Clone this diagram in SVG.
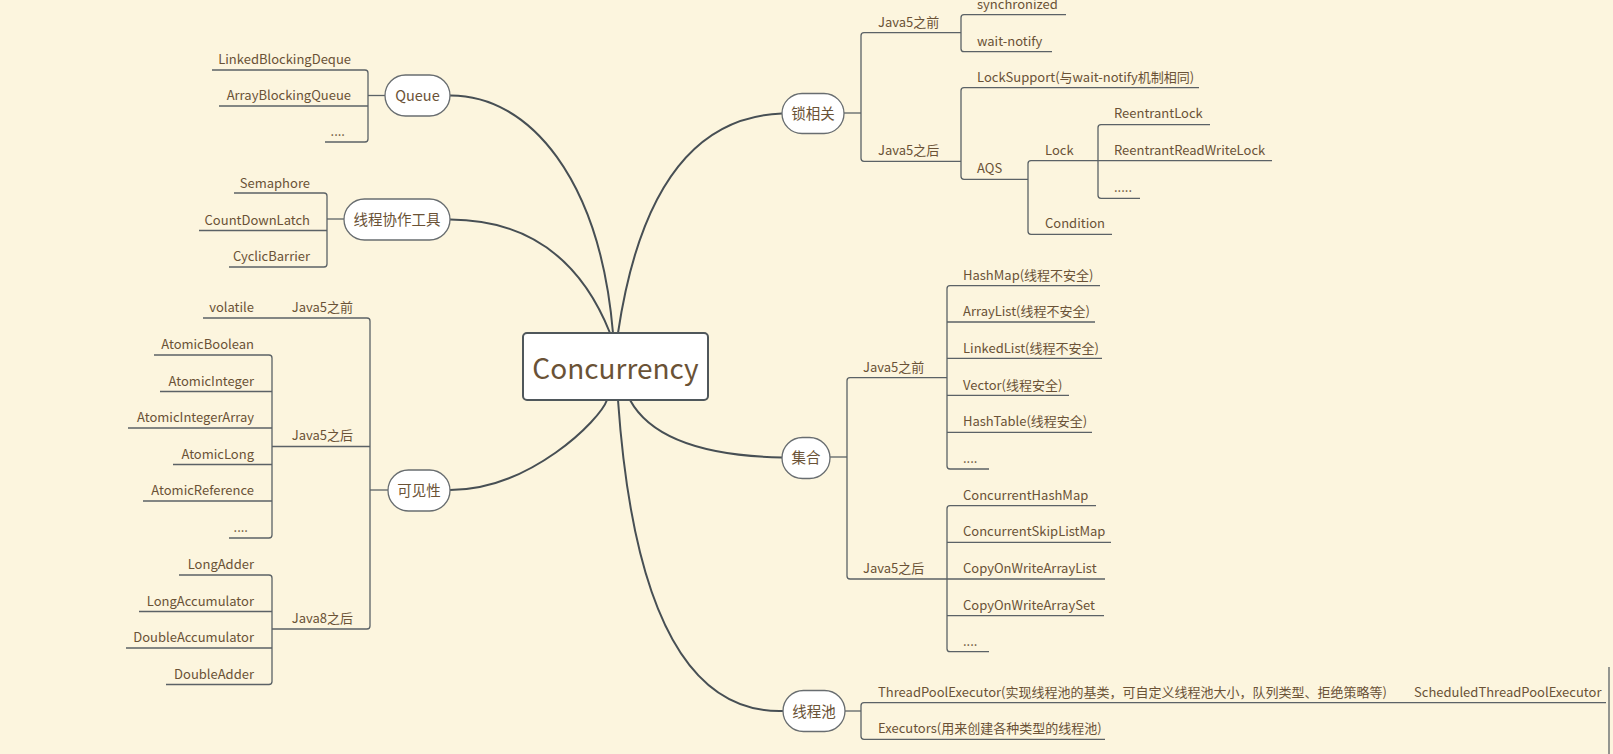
<svg xmlns="http://www.w3.org/2000/svg" width="1613" height="754" viewBox="0 0 1613 754">
<style>
text{font-family:"Noto Sans CJK SC","Noto Sans",sans-serif;fill:#6a5236}
.s{font-size:13px}
.m{font-size:14.5px;text-anchor:middle}
.l{text-anchor:end}
.c{font-size:28px;text-anchor:middle}
.ln{fill:none;stroke:#5b6266;stroke-width:1.3}
.cv{fill:none;stroke:#474f54;stroke-width:2;stroke-linecap:round}
.nd{fill:#fff;stroke:#686d70;stroke-width:1.3}
</style>
<rect width="1613" height="754" fill="#FCF5DE"/>
<g id="connectors">
<path class="cv" d="M613 333 C600 180 530 95 450 95.5"/>
<path class="cv" d="M610 333 Q565 220 450 219.5"/>
<path class="cv" d="M607 400 C600 420 530 490 450 490"/>
<path class="cv" d="M618 333 Q650 118 782 113.5"/>
<path class="cv" d="M630 400 Q660 455 782 457.5"/>
<path class="cv" d="M618 400 Q640 715 783 711"/>
</g>
<g id="center">
<rect x="523" y="333" width="185" height="67" rx="4" fill="#fff" stroke="#4f575b" stroke-width="2"/>
<text class="c" x="615.5" y="379">Concurrency</text>
</g>
<g id="queue">
<path class="ln" d="M368 95.5 H385"/>
<path class="ln" d="M212 70 H365 Q368 70 368 73 V139 Q368 142 365 142 H325"/>
<path class="ln" d="M219 106 H368"/>
<rect class="nd" x="385" y="75" width="65" height="41" rx="20.5"/>
<text class="m" x="417.5" y="101">Queue</text>
<text class="s l" x="351" y="64">LinkedBlockingDeque</text>
<text class="s l" x="351" y="100">ArrayBlockingQueue</text>
<text class="s l" x="345" y="136">....</text>
</g>
<g id="tools">
<path class="ln" d="M327 219 H344"/>
<path class="ln" d="M234 193 H324 Q327 193 327 196 V264 Q327 267 324 267 H229"/>
<path class="ln" d="M199 230.5 H327"/>
<rect class="nd" x="344" y="199" width="106" height="41" rx="20.5"/>
<text class="m" x="397" y="225">线程协作工具</text>
<text class="s l" x="310" y="188">Semaphore</text>
<text class="s l" x="310" y="224.5">CountDownLatch</text>
<text class="s l" x="310" y="261">CyclicBarrier</text>
</g>
<g id="visibility">
<path class="ln" d="M370 490 H388"/>
<path class="ln" d="M203 318 H367 Q370 318 370 321 V626 Q370 629 367 629 H272"/>
<path class="ln" d="M272 446.5 H370"/>
<rect class="nd" x="388" y="470" width="62" height="41" rx="20.5"/>
<text class="m" x="419" y="496">可见性</text>
<text class="s l" x="353" y="312">Java5之前</text>
<text class="s l" x="254" y="312">volatile</text>
<text class="s l" x="353" y="440">Java5之后</text>
<text class="s l" x="353" y="623">Java8之后</text>
<path class="ln" d="M154 355 H269 Q272 355 272 358 V535 Q272 538 269 538 H229"/>
<path class="ln" d="M160 391.5 H272 M128 428 H272 M173 464.5 H272 M143 501 H272"/>
<text class="s l" x="254" y="349">AtomicBoolean</text>
<text class="s l" x="254" y="385.5">AtomicInteger</text>
<text class="s l" x="254" y="422">AtomicIntegerArray</text>
<text class="s l" x="254" y="458.5">AtomicLong</text>
<text class="s l" x="254" y="495">AtomicReference</text>
<text class="s l" x="248" y="532">....</text>
<path class="ln" d="M179 575 H269 Q272 575 272 578 V681.5 Q272 684.5 269 684.5 H166"/>
<path class="ln" d="M139 611.5 H272 M126 648 H272"/>
<text class="s l" x="254" y="569">LongAdder</text>
<text class="s l" x="254" y="605.5">LongAccumulator</text>
<text class="s l" x="254" y="642">DoubleAccumulator</text>
<text class="s l" x="254" y="678.5">DoubleAdder</text>
</g>
<g id="lock">
<path class="ln" d="M844 113 H861"/>
<path class="ln" d="M961 32.7 H864 Q861 32.7 861 35.7 V158.3 Q861 161.3 864 161.3 H961"/>
<rect class="nd" x="782" y="93.5" width="62" height="40" rx="20"/>
<text class="m" x="813" y="119">锁相关</text>
<text class="s" x="878" y="27">Java5之前</text>
<text class="s" x="878" y="155">Java5之后</text>
<path class="ln" d="M1066 14.7 H964 Q961 14.7 961 17.7 V48.7 Q961 51.7 964 51.7 H1052"/>
<text class="s" x="977" y="9">synchronized</text>
<text class="s" x="977" y="45.5">wait-notify</text>
<path class="ln" d="M1199 87.7 H964 Q961 87.7 961 90.7 V176.3 Q961 179.3 964 179.3 H1028"/>
<text class="s" x="977" y="81.5">LockSupport(与wait-notify机制相同)</text>
<text class="s" x="977" y="173">AQS</text>
<path class="ln" d="M1098 160.7 H1031 Q1028 160.7 1028 163.7 V231.3 Q1028 234.3 1031 234.3 H1112"/>
<text class="s" x="1045" y="155">Lock</text>
<text class="s" x="1045" y="228">Condition</text>
<path class="ln" d="M1210 124.7 H1101 Q1098 124.7 1098 127.7 V195.3 Q1098 198.3 1101 198.3 H1140"/>
<path class="ln" d="M1098 160.7 H1272"/>
<text class="s" x="1114" y="118">ReentrantLock</text>
<text class="s" x="1114" y="155">ReentrantReadWriteLock</text>
<text class="s" x="1114" y="192">.....</text>
</g>
<g id="collection">
<path class="ln" d="M830 457 H847"/>
<path class="ln" d="M947 377.7 H850 Q847 377.7 847 380.7 V576 Q847 579 850 579 H947"/>
<rect class="nd" x="782" y="437.5" width="48" height="41" rx="20.5"/>
<text class="m" x="806" y="463">集合</text>
<text class="s" x="863" y="372">Java5之前</text>
<text class="s" x="863" y="573">Java5之后</text>
<path class="ln" d="M1100 285.7 H950 Q947 285.7 947 288.7 V466 Q947 469 950 469 H989"/>
<path class="ln" d="M947 322 H1095 M947 358.3 H1102 M947 395.3 H1069 M947 432.3 H1092"/>
<text class="s" x="963" y="279.5">HashMap(线程不安全)</text>
<text class="s" x="963" y="316">ArrayList(线程不安全)</text>
<text class="s" x="963" y="352.5">LinkedList(线程不安全)</text>
<text class="s" x="963" y="389.5">Vector(线程安全)</text>
<text class="s" x="963" y="426">HashTable(线程安全)</text>
<text class="s" x="963" y="463">....</text>
<path class="ln" d="M1096 505.7 H950 Q947 505.7 947 508.7 V648.7 Q947 651.7 950 651.7 H989"/>
<path class="ln" d="M947 542.3 H1111 M947 579 H1105 M947 615.7 H1104"/>
<text class="s" x="963" y="499.5">ConcurrentHashMap</text>
<text class="s" x="963" y="536">ConcurrentSkipListMap</text>
<text class="s" x="963" y="573">CopyOnWriteArrayList</text>
<text class="s" x="963" y="609.5">CopyOnWriteArraySet</text>
<text class="s" x="963" y="646">....</text>
</g>
<g id="threadpool">
<path class="ln" d="M845 711 H861"/>
<path class="ln" d="M1606 702.7 H864 Q861 702.7 861 705.7 V736.3 Q861 739.3 864 739.3 H1105"/>
<path class="ln" d="M1609 667 V754"/>
<rect class="nd" x="783" y="690.5" width="62" height="41" rx="20.5"/>
<text class="m" x="814" y="716.5">线程池</text>
<text class="s" x="878" y="697">ThreadPoolExecutor(实现线程池的基类，可自定义线程池大小，队列类型、拒绝策略等)</text>
<text class="s" x="1414" y="697">ScheduledThreadPoolExecutor</text>
<text class="s" x="878" y="733">Executors(用来创建各种类型的线程池)</text>
</g>
</svg>
